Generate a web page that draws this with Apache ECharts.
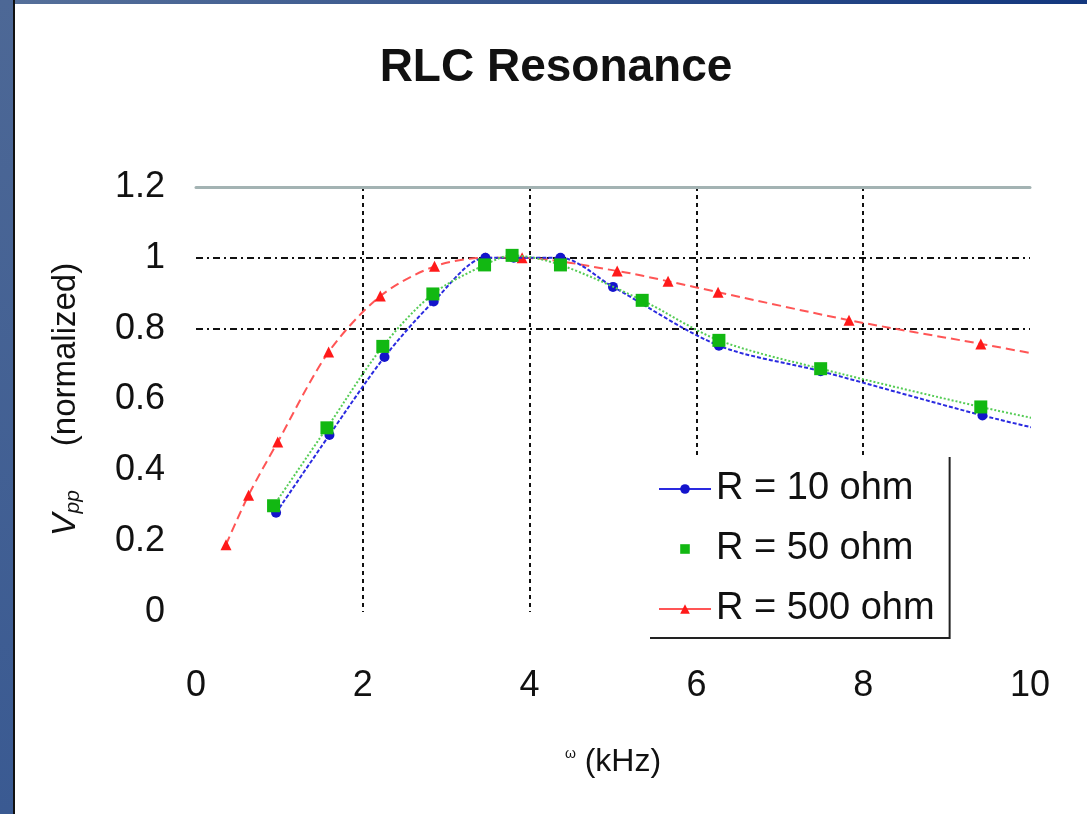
<!DOCTYPE html>
<html>
<head>
<meta charset="utf-8">
<script src="https://cdn.jsdelivr.net/npm/echarts@6/dist/echarts.min.js"></script>
<style>
  html, body { margin: 0; padding: 0; background: #fff; }
  /* blue slide frame around the picture */
  #topbar { position: absolute; left: 0; top: 0; width: 1087px; height: 4px;
    background: linear-gradient(90deg, #56709a, #13377e); }
  #sidebar { position: absolute; left: 0; top: 0; width: 13px; height: 814px;
    background: linear-gradient(180deg, #4d6896, #3a5a92);
    border-right: 2px solid #111; }
  #main { position: absolute; left: 0; top: 0; width: 1087px; height: 814px; }
</style>
</head>
<body>
<div id="topbar"></div>
<div id="sidebar"></div>
<div id="main"></div>
<script>
// frequency (kHz) and normalized Vpp for each resistor
const freq10 = [0.96, 1.60, 2.26, 2.85, 3.47, 3.81, 4.37, 5.00, 6.27, 7.49, 9.43, 10.6];
const vpp10 = [0.28, 0.50, 0.72, 0.877, 1.0, 1.0, 1.0, 0.918, 0.752, 0.68, 0.555, 0.49];

const freq50 = [0.93, 1.57, 2.24, 2.84, 3.46, 3.79, 4.37, 5.35, 6.27, 7.49, 9.41, 10.6];
const vpp50 = [0.30, 0.52, 0.75, 0.898, 0.98, 1.007, 0.98, 0.88, 0.767, 0.687, 0.579, 0.52];

const freq500 = [0.36, 0.63, 0.98, 1.59, 2.21, 2.86, 3.47, 3.91, 5.05, 5.66, 6.26, 7.83, 9.41, 10.6];
const vpp500 = [0.19, 0.33, 0.48, 0.734, 0.892, 0.976, 1.0, 1.0, 0.963, 0.934, 0.903, 0.824, 0.757, 0.705];

const seriesNames = ['R = 10 ohm', 'R = 50 ohm', 'R = 500 ohm'];

const pairs = (xs, ys) => xs.map((x, i) => [x, ys[i]]);
const FONT = '"Liberation Sans", Arial, sans-serif';
const none = 'rgba(0,0,0,0)';

const myChart = echarts.init(document.getElementById('main'));
const option = {
  animation: false,
  textStyle: { fontFamily: FONT },
  title: {
    text: 'RLC Resonance',
    left: 551,
    top: 40,
    textAlign: 'center',
    textStyle: { fontFamily: FONT, fontSize: 46, fontWeight: 'bold', color: '#111' }
  },
  grid: { left: 196, right: 57, top: 187, bottom: 202 },
  legend: {
    orient: 'vertical',
    left: 648,
    top: 455,
    padding: [14, 14, 8, 10],
    itemGap: 20,
    itemWidth: 52,
    itemHeight: 12,
    backgroundColor: '#fff',
    shadowColor: '#222',
    shadowBlur: 0,
    shadowOffsetX: 2,
    shadowOffsetY: 2,
    lineStyle: { type: 'solid', width: 2 },
    textStyle: { fontFamily: FONT, fontSize: 38, color: '#111', lineHeight: 40 },
    data: [
      { name: seriesNames[0] },
      { name: seriesNames[1], lineStyle: { opacity: 0 } },
      { name: seriesNames[2] }
    ]
  },
  xAxis: [
    {
      type: 'value',
      min: 0,
      max: 10,
      interval: 2,
      name: '{w|ω} (kHz)',
      nameLocation: 'middle',
      nameGap: 134,
      nameTextStyle: {
        fontFamily: FONT, fontSize: 32, color: '#111',
        rich: { w: { fontFamily: FONT, fontSize: 14, color: '#111', padding: [0, 0, 16, 0] } }
      },
      axisLine: { show: false },
      axisTick: { show: false },
      axisLabel: { fontFamily: FONT, fontSize: 36, color: '#111', margin: 56 },
      splitLine: {
        show: true,
        lineStyle: { color: [none, '#111', '#111', '#111', '#111', none], width: 2, type: [4, 4] }
      }
    },
    {
      type: 'value',
      position: 'top',
      min: 0,
      max: 10,
      axisLine: { show: true, lineStyle: { color: '#a3b3b3', width: 3 } },
      axisTick: { show: false },
      axisLabel: { show: false },
      splitLine: { show: false }
    }
  ],
  yAxis: {
    type: 'value',
    min: 0,
    max: 1.2,
    interval: 0.2,
    name: '{v|V}{sub|pp}{gap|}(normalized)',
    nameLocation: 'middle',
    nameRotate: 90,
    nameGap: 112,
    nameTextStyle: {
      fontFamily: FONT, fontSize: 33, color: '#111',
      rich: {
        v: { fontFamily: FONT, fontSize: 34, fontStyle: 'italic', color: '#111' },
        sub: { fontFamily: FONT, fontSize: 21, fontStyle: 'italic', color: '#111', padding: [16, 0, 0, 0] },
        gap: { width: 44 }
      }
    },
    axisLine: { show: false },
    axisTick: { show: false },
    axisLabel: { fontFamily: FONT, fontSize: 36, color: '#111', margin: 31 },
    splitLine: {
      show: true,
      lineStyle: { color: [none, none, none, none, '#111', '#111', none], width: 2, type: [7, 4, 2, 4] }
    }
  },
  series: [
    {
      name: seriesNames[0],
      type: 'line',
      smooth: 0.3,
      symbol: 'circle',
      symbolSize: 10,
      color: '#1414cc',
      lineStyle: { width: 2, type: [4, 2], color: '#2a2ae0' },
      z: 3,
      data: pairs(freq10, vpp10)
    },
    {
      name: seriesNames[1],
      type: 'line',
      smooth: 0.3,
      symbol: 'rect',
      symbolSize: 13,
      color: '#12b812',
      lineStyle: { width: 2, type: [2, 2], color: '#55cc55' },
      z: 4,
      data: pairs(freq50, vpp50)
    },
    {
      name: seriesNames[2],
      type: 'line',
      smooth: 0.3,
      symbol: 'triangle',
      symbolSize: 11,
      color: '#ff1a1a',
      lineStyle: { width: 2, type: [9, 5], color: '#ff5555' },
      z: 2,
      data: pairs(freq500, vpp500)
    }
  ]
};
myChart.setOption(option);
</script>
</body>
</html>
